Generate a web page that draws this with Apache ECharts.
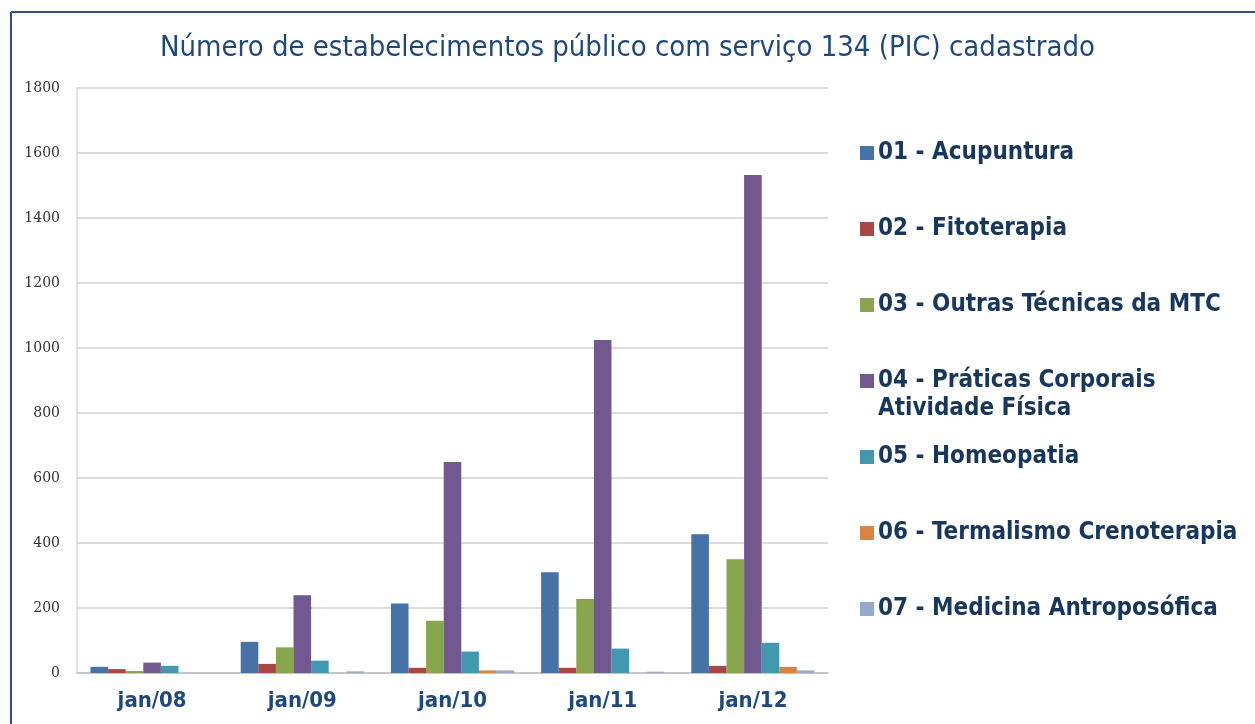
<!DOCTYPE html>
<html><head><meta charset="utf-8">
<script src="https://cdn.jsdelivr.net/npm/echarts@6/dist/echarts.min.js"></script>
<style>html,body{margin:0;padding:0;background:#fff}#c{width:1255px;height:724px}</style>
</head><body><div id="c"></div>
<script>
const categories = ['jan/08','jan/09','jan/10','jan/11','jan/12'];
const seriesNames = ['01 - Acupuntura','02 - Fitoterapia','03 - Outras Técnicas da MTC','04 - Práticas Corporais Atividade Física','05 - Homeopatia','06 - Termalismo Crenoterapia','07 - Medicina Antroposófica'];
const acupuntura = [19, 96, 214, 310, 427];
const fitoterapia = [12, 28, 16, 16, 22];
const outrasMTC = [6, 79, 161, 228, 350];
const praticasCorporais = [32, 239, 649, 1025, 1532];
const homeopatia = [22, 38, 66, 75, 93];
const termalismo = [0, 0, 8, 0, 19];
const antroposofica = [0, 5, 8, 4, 8];
const yTicks = [0,200,400,600,800,1000,1200,1400,1600,1800];
const colors = ['#4572A7','#AA4643','#89A54E','#71588F','#4198AF','#DB843D','#93A9CF'];
const values = [acupuntura, fitoterapia, outrasMTC, praticasCorporais, homeopatia, termalismo, antroposofica];
const legendCenters = [153, 229, 305, 381, 457, 533, 609];

const chart = echarts.init(document.getElementById('c'));
chart.setOption({
  animation: false,
  color: colors,
  title: {
    text: 'Número de estabelecimentos público com serviço 134 (PIC) cadastrado',
    left: 'center', top: 29,
    textStyle: {fontFamily: 'DejaVu Sans Condensed', fontSize: 29, fontWeight: 'normal', color: '#1F497D'}
  },
  graphic: [
    {type: 'line', shape: {x1: 11, y1: 12, x2: 1255, y2: 12}, style: {stroke: '#2E4E8C', lineWidth: 2}},
    {type: 'line', shape: {x1: 11, y1: 12, x2: 11, y2: 724}, style: {stroke: '#2E4E8C', lineWidth: 2}},
    {type: 'text', left: 878, top: 397, style: {text: 'Atividade Física', font: 'bold 24px "DejaVu Sans Condensed"', fill: '#17375E'}}
  ],
  legend: seriesNames.map((n, i) => ({
    data: [n], orient: 'vertical', left: 860, top: legendCenters[i] - 14, padding: 0,
    itemWidth: 14, itemHeight: 14, itemGap: 4, icon: 'rect',
    formatter: (name) => name.startsWith('04') ? '04 - Práticas Corporais' : name,
    textStyle: {fontFamily: 'DejaVu Sans Condensed', fontSize: 24, fontWeight: 'bold', color: '#17375E', lineHeight: 28, padding: [0,0,0,-1]}
  })),
  grid: {left: 77, right: 427, top: 88, bottom: 51},
  xAxis: {
    type: 'category', data: categories,
    axisLine: {lineStyle: {color: '#BFBFBF', width: 1.5}},
    axisTick: {show: false},
    axisLabel: {margin: 17, fontFamily: 'DejaVu Sans Condensed', fontSize: 22, fontWeight: 'bold', color: '#1F497D'}
  },
  yAxis: {
    type: 'value', min: 0, max: 1800, interval: 200,
    axisLine: {show: true, lineStyle: {color: '#D9D9D9', width: 1.5}},
    axisTick: {show: false},
    splitLine: {lineStyle: {color: '#D0D0D0', width: 1.5}},
    axisLabel: {margin: 17, fontFamily: 'DejaVu Serif', fontSize: 14, color: '#333',
      formatter: v => yTicks.includes(v) ? String(v) : ''}
  },
  series: values.map((d, i) => ({
    name: seriesNames[i], type: 'bar', data: d,
    barGap: '0%', barCategoryGap: '18%',
    itemStyle: {color: colors[i]}
  }))
});
</script></body></html>
